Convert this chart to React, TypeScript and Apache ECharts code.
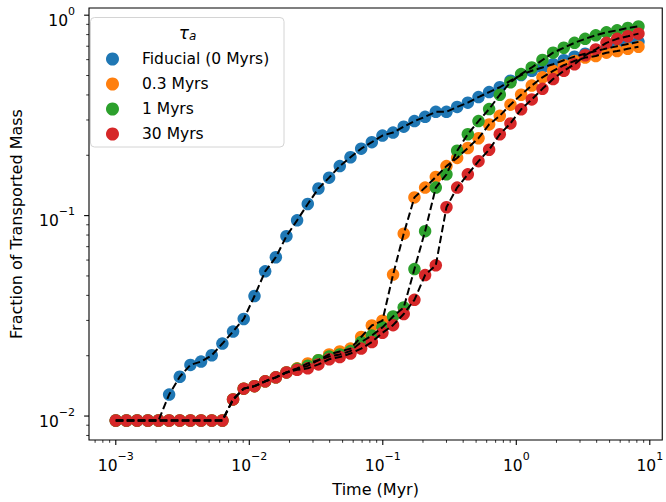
import React, { useEffect, useRef } from 'react';
import * as echarts from 'echarts';

// Output times (Myr)
const timeMyr = [
  0.001, 0.001202, 0.001445, 0.001738, 0.002089, 0.002509, 0.003015, 0.003623, 0.004354, 0.005233,
  0.006289, 0.007559, 0.009085, 0.01094, 0.01315, 0.01581, 0.01898, 0.02281, 0.02742, 0.03296,
  0.03962, 0.04762, 0.05728, 0.06887, 0.08279, 0.0994, 0.1194, 0.1435, 0.1726, 0.2075,
  0.2495, 0.2999, 0.3606, 0.4335, 0.5212, 0.6258, 0.7524, 0.9043, 1.087, 1.306,
  1.57, 1.887, 2.269, 2.728, 3.279, 3.94, 4.736, 5.692, 6.843, 8.226,
];

const fiducial = [
  0.0095, 0.0095, 0.0095, 0.0095, 0.0095, 0.0128, 0.0157, 0.018, 0.0187, 0.0201,
  0.023, 0.0264, 0.0305, 0.0397, 0.0527, 0.062, 0.079, 0.0947, 0.1143, 0.1365,
  0.1547, 0.1766, 0.1955, 0.2157, 0.2326, 0.2509, 0.2597, 0.2779, 0.2961, 0.3112,
  0.3294, 0.3294, 0.3485, 0.366, 0.3904, 0.4132, 0.437, 0.471, 0.503, 0.528,
  0.548, 0.569, 0.596, 0.621, 0.642, 0.662, 0.682, 0.7, 0.718, 0.736,
];

const tau03 = [
  0.0095, 0.0095, 0.0095, 0.0095, 0.0095, 0.0095, 0.0095, 0.0095, 0.0095, 0.0095,
  0.0095, 0.0121, 0.0137, 0.0141, 0.0149, 0.0156, 0.0165, 0.0173, 0.0183, 0.019,
  0.0203, 0.021, 0.0217, 0.0248, 0.0283, 0.0299, 0.0508, 0.0813, 0.1233, 0.138,
  0.156, 0.1766, 0.194, 0.2174, 0.2433, 0.2852, 0.3148, 0.3578, 0.4009, 0.4453,
  0.4898, 0.5277, 0.5628, 0.591, 0.6143, 0.6256, 0.65, 0.662, 0.68, 0.696,
];

const tau1 = [
  0.0095, 0.0095, 0.0095, 0.0095, 0.0095, 0.0095, 0.0095, 0.0095, 0.0095, 0.0095,
  0.0095, 0.0121, 0.0137, 0.0141, 0.0149, 0.0156, 0.0165, 0.0172, 0.0178, 0.019,
  0.0198, 0.0203, 0.0211, 0.0234, 0.0252, 0.0277, 0.0314, 0.0348, 0.0541, 0.0836,
  0.138, 0.1606, 0.2108, 0.2547, 0.2961, 0.34, 0.4009, 0.4627, 0.5084, 0.5484,
  0.5977, 0.65, 0.688, 0.728, 0.762, 0.7936, 0.821, 0.84, 0.863, 0.879,
];

const tau30 = [
  0.0095, 0.0095, 0.0095, 0.0095, 0.0095, 0.0095, 0.0095, 0.0095, 0.0095, 0.0095,
  0.0095, 0.0121, 0.0137, 0.0141, 0.0149, 0.0156, 0.0165, 0.017, 0.0173, 0.0181,
  0.0192, 0.0197, 0.0205, 0.0217, 0.0234, 0.026, 0.0284, 0.0323, 0.038, 0.0505,
  0.0565, 0.1101, 0.138, 0.1606, 0.1869, 0.2132, 0.2547, 0.2884, 0.339, 0.38,
  0.429, 0.48, 0.528, 0.569, 0.631, 0.675, 0.728, 0.762, 0.785, 0.809,
];

const seriesNames = ['Fiducial (0 Myrs)', '0.3 Myrs', '1 Myrs', '30 Myrs'];
const seriesValues = [fiducial, tau03, tau1, tau30];
const seriesColors = ['#1f77b4', '#ff7f0e', '#2ca02c', '#d62728'];

const xMajorTicks = [0.001, 0.01, 0.1, 1, 10];
const xMinorTicks = [
  0.0007, 0.0008, 0.0009,
  0.002, 0.003, 0.004, 0.005, 0.006, 0.007, 0.008, 0.009,
  0.02, 0.03, 0.04, 0.05, 0.06, 0.07, 0.08, 0.09,
  0.2, 0.3, 0.4, 0.5, 0.6, 0.7, 0.8, 0.9,
  2, 3, 4, 5, 6, 7, 8, 9,
];
const yMajorTicks = [0.01, 0.1, 1];
const yMinorTicks = [
  0.008, 0.009,
  0.02, 0.03, 0.04, 0.05, 0.06, 0.07, 0.08, 0.09,
  0.2, 0.3, 0.4, 0.5, 0.6, 0.7, 0.8, 0.9,
];

const X_MIN = 0.00063;
const X_MAX = 12.4;
const Y_MIN = 0.007594;
const Y_MAX = 1.086;

const FONT = 'DejaVu Sans';

const supLabel = (v: number) => {
  const e = Math.round(Math.log10(v));
  const s = e < 0 ? '\u2212' + String(-e) : String(e);
  return `{b|10}{e|${s}}`;
};

const labelRich = {
  b: { fontSize: 15.5, lineHeight: 23, verticalAlign: 'bottom', color: '#000', fontFamily: FONT },
  e: { fontSize: 11, lineHeight: 11, verticalAlign: 'top', color: '#000', fontFamily: FONT },
};

export default function App() {
  const ref = useRef<HTMLDivElement>(null);

  useEffect(() => {
    if (!ref.current) return;
    const chart = echarts.init(ref.current, undefined, { renderer: 'svg' });

    const series: any[] = [];
    seriesValues.forEach((vals, k) => {
      const data = timeMyr.map((t, i) => [t, vals[i]]);
      series.push({
        type: 'scatter',
        name: seriesNames[k],
        data,
        symbol: 'circle',
        symbolSize: 12.5,
        itemStyle: { color: seriesColors[k], opacity: 1 },
        emphasis: { disabled: true },
      });
      series.push({
        type: 'line',
        name: 'dash' + k,
        data,
        symbol: 'none',
        showSymbol: false,
        lineStyle: { color: '#000', width: 2, type: [7.5, 3.5] },
        emphasis: { disabled: true },
      });
    });

    const xTickData = [
      ...xMajorTicks.map((v) => [v, 0.1, 1]),
      ...xMinorTicks.map((v) => [v, 0.1, 0]),
    ];
    const yTickData = [
      ...yMajorTicks.map((v) => [0.01, v, 1]),
      ...yMinorTicks.map((v) => [0.01, v, 0]),
    ];

    series.push({
      type: 'custom',
      name: 'xticks',
      data: xTickData,
      clip: false,
      silent: true,
      encode: { x: 0, y: 1 },
      renderItem: (params: any, api: any) => {
        const v = api.value(0);
        const major = api.value(2) === 1;
        const p = api.coord([v, 0.1]);
        const cs = params.coordSys;
        const bottom = cs.y + cs.height;
        const len = major ? 4.9 : 2.8;
        return {
          type: 'line',
          shape: { x1: p[0], y1: bottom, x2: p[0], y2: bottom + len },
          style: { stroke: '#000', lineWidth: major ? 1.1 : 0.8 },
        };
      },
    });
    series.push({
      type: 'custom',
      name: 'yticks',
      data: yTickData,
      clip: false,
      silent: true,
      encode: { x: 0, y: 1 },
      renderItem: (params: any, api: any) => {
        const v = api.value(1);
        const major = api.value(2) === 1;
        const p = api.coord([0.01, v]);
        const cs = params.coordSys;
        const left = cs.x;
        const len = major ? 4.9 : 2.8;
        return {
          type: 'line',
          shape: { x1: left - len, y1: p[1], x2: left, y2: p[1] },
          style: { stroke: '#000', lineWidth: major ? 1.1 : 0.8 },
        };
      },
    });

    chart.setOption({
      animation: false,
      backgroundColor: '#ffffff',
      textStyle: { fontFamily: FONT },
      grid: {
        left: 82,
        right: 0,
        top: 8,
        bottom: 56,
        show: true,
        borderColor: '#000',
        borderWidth: 1.1,
        backgroundColor: 'transparent',
        containLabel: false,
      },
      xAxis: {
        type: 'log',
        logBase: 10,
        min: X_MIN,
        max: X_MAX,
        name: 'Time (Myr)',
        nameLocation: 'middle',
        nameGap: 41,
        nameTextStyle: { fontSize: 16, color: '#000', fontFamily: FONT },
        axisLine: { show: false },
        axisTick: { show: false },
        splitLine: { show: false },
        minorTick: { show: false },
        axisLabel: {
          show: true,
          margin: 11,
          showMinLabel: false,
          showMaxLabel: false,
          formatter: supLabel,
          rich: labelRich,
        },
      },
      yAxis: {
        type: 'log',
        logBase: 10,
        min: Y_MIN,
        max: Y_MAX,
        name: 'Fraction of Transported Mass',
        nameLocation: 'middle',
        nameGap: 65,
        nameTextStyle: { fontSize: 16, color: '#000', fontFamily: FONT },
        axisLine: { show: false },
        axisTick: { show: false },
        splitLine: { show: false },
        minorTick: { show: false },
        axisLabel: {
          show: true,
          margin: 14,
          showMinLabel: false,
          showMaxLabel: false,
          padding: [4.3, 0, 0, 0],
          formatter: supLabel,
          rich: labelRich,
        },
      },
      legend: {
        data: seriesNames,
        orient: 'vertical',
        left: 106,
        top: 51,
        padding: 0,
        itemWidth: 13,
        itemHeight: 13,
        itemGap: 9,
        icon: 'circle',
        selectedMode: false,
        z: 5,
        formatter: (name: string) => `{g|}{n|${name}}`,
        textStyle: {
          fontSize: 15.5,
          color: '#000',
          fontFamily: FONT,
          lineHeight: 16,
          rich: {
            g: { width: 18, lineHeight: 16, fontSize: 15.5, fontFamily: FONT },
            n: { fontSize: 15.5, lineHeight: 16, color: '#000', fontFamily: FONT },
          },
        },
      },
      graphic: [
        {
          type: 'rect',
          z: 4,
          shape: { x: 90.5, y: 17.5, width: 193.5, height: 129.5, r: 4 },
          style: { fill: 'rgba(255,255,255,0.8)', stroke: '#d4d4d4', lineWidth: 1 },
        },
        {
          type: 'text',
          z: 5,
          x: 187.5,
          y: 33,
          style: {
            text: '{t|\u03c4}{s|a}',
            align: 'center',
            verticalAlign: 'middle',
            textAlign: 'center',
            textVerticalAlign: 'middle',
            rich: {
              t: { fontSize: 17, fontStyle: 'italic', lineHeight: 18, verticalAlign: 'top', fill: '#000', fontFamily: FONT },
              s: { fontSize: 12, fontStyle: 'italic', lineHeight: 12, verticalAlign: 'bottom', fill: '#000', fontFamily: FONT },
            },
          },
        },
      ],
      series,
    });

    return () => {
      chart.dispose();
    };
  }, []);

  return (
    <div
      ref={ref}
      style={{ position: 'absolute', left: 0, top: 0, width: 666, height: 502, background: '#fff' }}
    />
  );
}
